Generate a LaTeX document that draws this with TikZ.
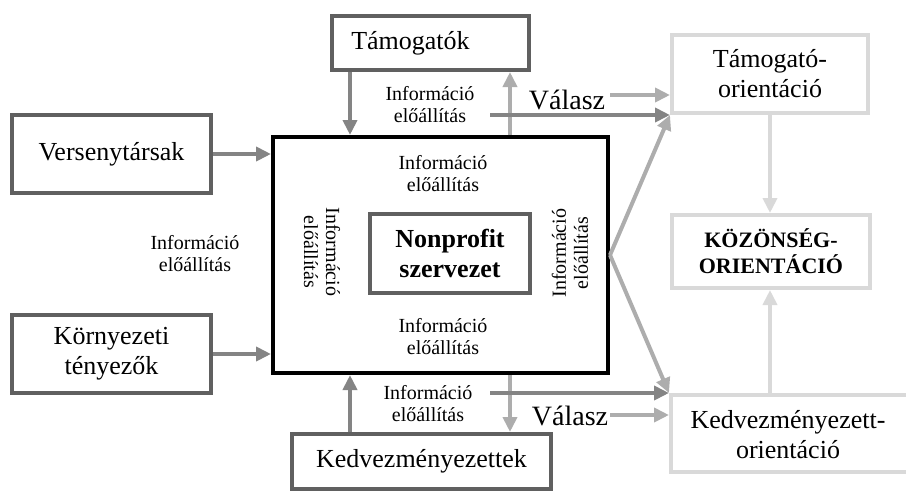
\documentclass[tikz,border=0pt]{standalone}
\usepackage{fontspec}
\setmainfont{Liberation Serif}
\usetikzlibrary{arrows.meta}

\definecolor{boxdark}{HTML}{606060}
\definecolor{arrdark}{HTML}{848484}
\definecolor{arrlight}{HTML}{ADADAD}
\definecolor{pale}{HTML}{D9D9D9}

\tikzset{
  box/.style={draw=boxdark, line width=4pt, fill=white, inner sep=0pt,
    align=center, font=\fontsize{26}{30}\selectfont},
  palebox/.style={box, draw=pale},
  label/.style={align=center, inner sep=0pt, font=\fontsize{26}{30}\selectfont},
  info/.style={align=center, inner sep=0pt, font=\fontsize{20}{22}\selectfont},
  reply/.style={inner sep=0pt, font=\fontsize{28}{30}\selectfont},
  arr/.style={line width=4pt, -{Triangle[length=15pt,width=14pt]}},
}

\begin{document}
\begin{tikzpicture}[x=1pt,y=-1pt]
\useasboundingbox (0,0) rectangle (906,493);
\clip (0,0) rectangle (906,493);

% actors around the organisation
\node[box, minimum width=197pt, minimum height=54pt] (tam) at (430.5,43) {Támogatók\hspace*{40pt}};
\node[box, minimum width=199pt, minimum height=78pt] (vers) at (111.5,154) {Versenytársak};
\node[box, minimum width=199pt, minimum height=78pt] (korny) at (111.5,354) {Környezeti\\tényezők};
\node[box, minimum width=259pt, minimum height=55pt] (kedv) at (421.5,461.5) {Kedvezményezettek};

% the organisation
\node[box, draw=black, minimum width=335pt, minimum height=236pt] (org) at (440.5,255) {};
\node[box, minimum width=160pt, minimum height=79pt, font=\bfseries\fontsize{26}{30}\selectfont] (np) at (450,253.5) {Nonprofit\\szervezet};

% orientations
\node[palebox, minimum width=196pt, minimum height=78pt] (tamor) at (770,74) {Támogató-\\orientáció};
\node[palebox, minimum width=198pt, minimum height=73pt, font=\bfseries\fontsize{22}{26}\selectfont] (koz) at (771,251.5) {KÖZÖNSÉG-\\ORIENTÁCIÓ};
\node[palebox, minimum width=270pt, minimum height=77pt] (kedvor) at (806,433.5) {};
\node[label] (kedvortxt) at (788,435) {Kedvezményezett-\\orientáció};

% labels
\node[info] (itop) at (430,105) {Információ\\előállítás};
\node[info] (ibot) at (428,404) {Információ\\előállítás};
\node[info] (ileft) at (195,254) {Információ\\előállítás};
\node[info] (iin1) at (443,174) {Információ\\előállítás};
\node[info] (iin2) at (443,337) {Információ\\előállítás};
\node[info, rotate=-90] (iin3) at (322,252) {Információ\\előállítás};
\node[info, rotate=90] (iin4) at (570,253) {Információ\\előállítás};
\node[reply] (v1) at (567,100) {Válasz};
\node[reply] (v2) at (570,416) {Válasz};

% helper coordinates
\coordinate (xa) at (350,0);
\coordinate (xb) at (510,0);
\coordinate (s1) at (490,115);
\coordinate (s2) at (490,393);
\coordinate (r1) at (610,95);
\coordinate (r2) at (610,415);

% information flows
\draw[arr, arrdark] (vers.east) -- (vers.east -| org.west);
\draw[arr, arrdark] (korny.east) -- (korny.east -| org.west);
\draw[arr, arrdark] (tam.south -| xa) -- (org.north -| xa);
\draw[arr, arrlight] (org.north -| xb) -- (tam.south -| xb);
\draw[arr, arrdark] (kedv.north -| xa) -- (org.south -| xa);
\draw[arr, arrlight] (org.south -| xb) -- (kedv.north -| xb);
\draw[arr, arrdark] (s1) -- (s1 -| tamor.west);
\draw[arr, arrdark] (s2) -- (s2 -| kedvor.west);
\draw[arr, arrlight] (r1) -- (r1 -| tamor.west);
\draw[arr, arrlight] (r2) -- (r2 -| kedvor.west);
\draw[arr, arrlight] (org.east) -- (tamor.south west);
\draw[arr, arrlight] (org.east) -- (kedvor.north west);
\draw[arr, pale] (tamor.south) -- (tamor.south |- koz.north);
\draw[arr, pale] (kedvor.north -| tamor.south) -- (tamor.south |- koz.south);
\end{tikzpicture}
\end{document}
